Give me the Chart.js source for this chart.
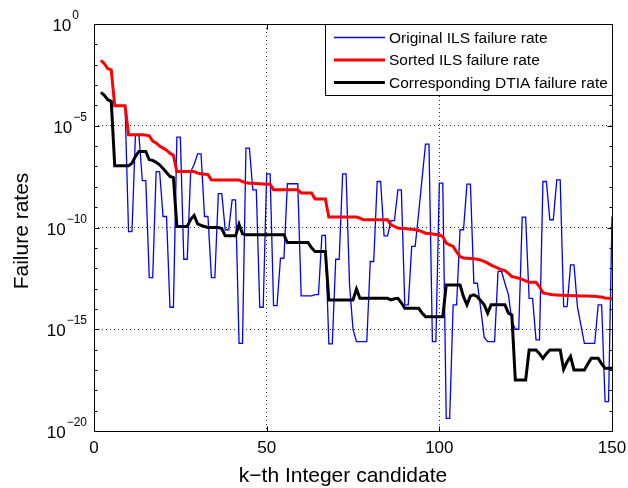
<!DOCTYPE html>
<html>
<head>
<meta charset="utf-8">
<script src="https://cdn.jsdelivr.net/npm/chart.js@4.4.0/dist/chart.umd.min.js"></script>
<style>
  body { margin: 0; background: #fff; }
  canvas { display: block; }
</style>
</head>
<body>
<canvas id="chart" width="628" height="488"></canvas>
<script>
// Premier candidat tracé (k = 2 ... 150)
const firstCandidate = 2;

// Exposants log10, un par candidat k
const originalIlsExp = [
  -1.79, -1.95, -2.2, -2.25, -4.02, -4.02, -4.02, -4.02, -10.2, -10.2,        // k 2-11
  -5.44, -5.44, -7.7, -7.7, -12.46, -12.46, -7.25, -7.25, -9.46, -9.46,       // k 12-21
  -13.92, -13.92, -5.56, -5.56, -11.56, -11.56, -7.25, -6.9, -6.38, -6.38,    // k 22-31
  -9.46, -9.46, -12.46, -12.46, -8.34, -8.34, -10.11, -10.11, -8.64, -8.64,   // k 32-41
  -15.69, -15.69, -6.1, -6.1, -8.15, -8.15, -13.92, -13.92, -7.36, -7.36,     // k 42-51
  -13.84, -13.84, -11.51, -11.51, -7.85, -7.85, -7.85, -7.85, -13.36, -13.36, // k 52-61
  -13.36, -13.36, -13.3, -13.3, -10.39, -10.39, -15.72, -15.72, -11.56, -11.56, // k 62-71
  -7.36, -7.36, -12.82, -15.0, -15.61, -15.61, -15.61, -15.61, -11.67, -11.67, // k 72-81
  -7.74, -7.74, -10.41, -10.41, -9.66, -9.66, -8.15, -8.15, -13.8, -13.8,     // k 82-91
  -10.93, -10.93, -9.3, -7.6, -5.9, -5.9, -15.61, -15.61, -7.82, -7.82,       // k 92-101
  -19.38, -19.38, -13.8, -13.8, -10.11, -10.11, -7.87, -7.87, -12.74, -12.74, // k 102-111
  -14.0, -15.4, -15.61, -15.61, -15.61, -12.16, -12.16, -12.74, -13.3, -14.6, // k 112-121
  -15.0, -15.0, -9.49, -9.49, -13.48, -13.48, -15.52, -15.52, -7.74, -7.74,   // k 122-131
  -9.62, -9.62, -7.66, -7.66, -13.89, -13.89, -11.84, -11.84, -13.9, -14.8,   // k 132-141
  -15.69, -15.69, -15.69, -15.69, -13.8, -13.8, -18.56, -18.56, -9.46         // k 142-150
];

const sortedIlsExp = [
  -1.79, -1.95, -2.2, -2.25, -4.02, -4.02, -4.02, -4.02, -5.44, -5.44,
  -5.44, -5.44, -5.44, -5.46, -5.5, -5.75, -5.85, -6.0, -6.1, -6.2,
  -6.35, -6.45, -7.25, -7.25, -7.25, -7.25, -7.25, -7.25, -7.33, -7.36,
  -7.38, -7.4, -7.66, -7.66, -7.66, -7.66, -7.66, -7.66, -7.66, -7.66,
  -7.66, -7.74, -7.8, -7.82, -7.83, -7.84, -7.85, -7.86, -7.87, -7.87,
  -8.15, -8.15, -8.15, -8.15, -8.15, -8.15, -8.15, -8.15, -8.3, -8.3,
  -8.3, -8.3, -8.6, -8.6, -8.6, -8.6, -9.49, -9.49, -9.49, -9.49,
  -9.49, -9.49, -9.49, -9.49, -9.49, -9.54, -9.62, -9.62, -9.62, -9.62,
  -9.62, -9.62, -9.62, -9.62, -9.87, -9.95, -10.03, -10.05, -10.05, -10.07,
  -10.09, -10.11, -10.15, -10.2, -10.28, -10.3, -10.32, -10.34, -10.36, -10.45,
  -10.77, -10.85, -10.93, -11.2, -11.43, -11.5, -11.51, -11.52, -11.54, -11.56,
  -11.6, -11.67, -11.75, -11.85, -11.92, -12.0, -12.08, -12.12, -12.25, -12.41,
  -12.45, -12.49, -12.55, -12.62, -12.69, -12.69, -12.69, -12.9, -13.2, -13.25,
  -13.28, -13.31, -13.32, -13.33, -13.33, -13.34, -13.34, -13.35, -13.35, -13.36,
  -13.36, -13.37, -13.38, -13.38, -13.4, -13.42, -13.46, -13.48, -13.5
];

const dtiaExp = [
  -3.36, -3.5, -3.72, -3.8, -6.97, -6.97, -6.97, -6.97, -6.97, -6.84,
  -6.5, -6.26, -6.26, -6.26, -6.67, -6.7, -6.8, -6.92, -7.1, -7.3,
  -7.49, -7.55, -9.95, -9.95, -9.95, -9.95, -9.6, -9.41, -9.82, -9.9,
  -9.95, -10.0, -10.0, -10.0, -10.0, -10.05, -10.41, -10.41, -10.41, -10.41,
  -9.84, -10.31, -10.36, -10.36, -10.36, -10.36, -10.36, -10.36, -10.36, -10.36,
  -10.36, -10.36, -10.36, -10.36, -10.74, -10.74, -10.74, -10.74, -10.74, -10.74,
  -10.74, -11.0, -11.18, -11.18, -11.18, -11.18, -13.56, -13.56, -13.56, -13.56,
  -13.56, -13.56, -13.56, -13.56, -13.03, -13.48, -13.48, -13.48, -13.48, -13.48,
  -13.48, -13.48, -13.48, -13.48, -13.56, -13.5, -13.48, -13.7, -13.97, -13.97,
  -13.97, -13.97, -13.97, -14.2, -14.38, -14.38, -14.38, -14.38, -14.38, -14.38,
  -12.82, -12.82, -12.82, -12.82, -12.82, -13.4, -13.8, -13.36, -13.31, -13.4,
  -13.6, -13.8, -14.21, -13.8, -13.8, -13.8, -13.8, -13.8, -14.21, -14.3,
  -17.49, -17.49, -17.49, -17.49, -16.02, -16.02, -16.02, -16.2, -16.43, -16.2,
  -16.02, -16.02, -16.02, -16.02, -16.97, -16.6, -16.34, -17.0, -17.0, -17.0,
  -17.0, -16.7, -16.43, -16.43, -16.43, -16.7, -16.92, -16.92, -16.92
];

const seriesNames = [
  'Original ILS failure rate',
  'Sorted ILS failure rate',
  'Corresponding DTIA failure rate'
];

const xTicks = [0, 50, 100, 150];
const yTickExps = [0, -5, -10, -15, -20];

const FONT = '"Liberation Sans", Arial, Helvetica, sans-serif';

// Construit les points {x, y} à partir des exposants
function toPoints(exps) {
  return exps.map((e, i) => ({ x: firstCandidate + i, y: Math.pow(10, e) }));
}

// Boîte, graduations, libellés et légende façon MATLAB
const matlabAxes = {
  id: 'matlabAxes',
  afterDraw(chart) {
    const ctx = chart.ctx;
    const area = chart.chartArea;
    const xs = chart.scales.x;
    const ys = chart.scales.y;
    const L = Math.round(area.left) + 0.5;
    const R = Math.round(area.right) + 0.5;
    const T = Math.round(area.top) + 0.5;
    const B = Math.round(area.bottom) + 0.5;

    ctx.save();
    ctx.strokeStyle = '#000';
    ctx.lineWidth = 1;

    // graduations X
    ctx.beginPath();
    xTicks.forEach(v => {
      const px = Math.round(xs.getPixelForValue(v)) + 0.5;
      ctx.moveTo(px, B); ctx.lineTo(px, B - 5);
      ctx.moveTo(px, T); ctx.lineTo(px, T + 5);
    });
    // graduations Y (majeures tous les 5, mineures à chaque décade)
    for (let e = 0; e >= -20; e--) {
      const py = Math.round(ys.getPixelForValue(Math.pow(10, e))) + 0.5;
      const len = (e % 5 === 0) ? 5 : 3;
      ctx.moveTo(L, py); ctx.lineTo(L + len, py);
      ctx.moveTo(R, py); ctx.lineTo(R - len, py);
    }
    ctx.stroke();

    // cadre
    ctx.strokeRect(L, T, R - L, B - T);

    // libellés X
    ctx.fillStyle = '#000';
    ctx.font = '17px ' + FONT;
    ctx.textAlign = 'center';
    ctx.textBaseline = 'alphabetic';
    xTicks.forEach(v => {
      ctx.fillText(String(v), xs.getPixelForValue(v), 453);
    });

    // libellés Y en puissances de 10
    yTickExps.forEach(e => {
      const py = ys.getPixelForValue(Math.pow(10, e));
      const expText = e === 0 ? '0' : '\u2212' + Math.abs(e);
      ctx.font = '12px ' + FONT;
      const wExp = ctx.measureText(expText).width;
      ctx.font = '17px ' + FONT;
      const wBase = ctx.measureText('10').width;
      const right = e === 0 ? 79 : 87;
      ctx.textAlign = 'left';
      ctx.fillText('10', right - wExp - wBase - 1, py + 7);
      ctx.font = '12px ' + FONT;
      ctx.fillText(expText, right - wExp, py - 5);
    });

    // titres des axes
    ctx.font = '21px ' + FONT;
    ctx.textAlign = 'center';
    ctx.textBaseline = 'middle';
    ctx.fillText('k\u2212th Integer candidate', (area.left + area.right) / 2 - 10, 476);
    ctx.save();
    ctx.translate(22, 231);
    ctx.rotate(-Math.PI / 2);
    ctx.fillText('Failure rates', 0, 0);
    ctx.restore();

    // légende
    const box = { x: 325.5, y: 24.5, w: 287, h: 71 };
    ctx.fillStyle = '#fff';
    ctx.fillRect(box.x, box.y, box.w, box.h);
    ctx.strokeStyle = '#000';
    ctx.lineWidth = 1;
    ctx.strokeRect(box.x, box.y, box.w, box.h);
    const rows = [37.5, 60, 82.5];
    chart.data.datasets.forEach((ds, i) => {
      ctx.strokeStyle = ds.borderColor;
      ctx.lineWidth = ds.borderWidth;
      ctx.beginPath();
      ctx.moveTo(334, rows[i]);
      ctx.lineTo(385, rows[i]);
      ctx.stroke();
      ctx.fillStyle = '#000';
      ctx.font = '15.5px ' + FONT;
      ctx.textAlign = 'left';
      ctx.textBaseline = 'middle';
      ctx.fillText(ds.label, 389, rows[i] + 1);
    });
    ctx.restore();
  }
};

new Chart(document.getElementById('chart').getContext('2d'), {
  type: 'line',
  data: {
    datasets: [
      {
        label: seriesNames[0],
        data: toPoints(originalIlsExp),
        borderColor: '#0000ff',
        borderWidth: 1.3,
        order: 3
      },
      {
        label: seriesNames[1],
        data: toPoints(sortedIlsExp),
        borderColor: '#ff0000',
        borderWidth: 3,
        order: 2
      },
      {
        label: seriesNames[2],
        data: toPoints(dtiaExp),
        borderColor: '#000000',
        borderWidth: 3,
        order: 1
      }
    ]
  },
  options: {
    responsive: false,
    animation: false,
    layout: { padding: { left: 10, top: 24, right: 16, bottom: 0 } },
    elements: {
      point: { radius: 0 },
      line: { tension: 0, fill: false }
    },
    scales: {
      x: {
        type: 'linear',
        min: 0,
        max: 150,
        ticks: { display: false, stepSize: 50 },
        grid: { color: '#333', lineWidth: 1, drawTicks: false },
        border: { display: false, dash: [1, 3] },
        afterFit: s => { s.height = 57; }
      },
      y: {
        type: 'logarithmic',
        min: 1e-20,
        max: 1,
        ticks: { display: false },
        afterBuildTicks: s => {
          s.ticks = yTickExps.map(e => ({ value: Math.pow(10, e) }));
        },
        grid: { color: '#333', lineWidth: 1, drawTicks: false },
        border: { display: false, dash: [1, 3] },
        afterFit: s => { s.width = 84; }
      }
    },
    plugins: {
      legend: { display: false },
      tooltip: { enabled: false }
    }
  },
  plugins: [matlabAxes]
});
</script>
</body>
</html>
